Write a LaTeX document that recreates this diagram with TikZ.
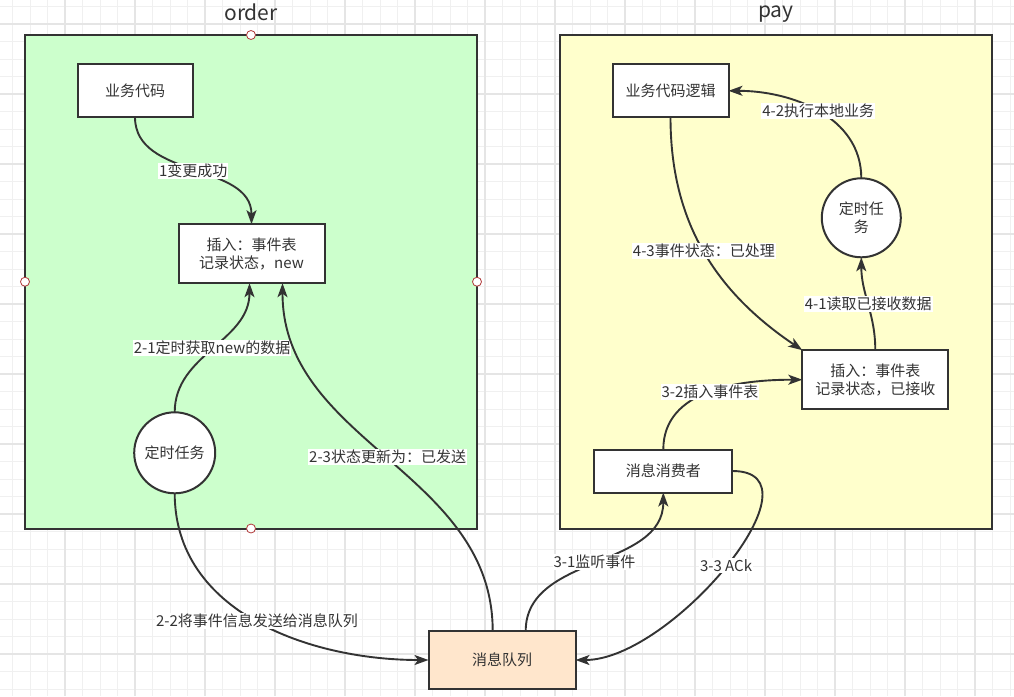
\documentclass[tikz,border=0pt]{standalone}
\usepackage{fontspec}
\setmainfont{Noto Sans CJK SC}
\usetikzlibrary{arrows.meta,calc}
\definecolor{ink}{HTML}{333333}
\definecolor{orderfill}{HTML}{CCFFCC}
\definecolor{payfill}{HTML}{FFFFCC}
\definecolor{mqfill}{HTML}{FFE6CC}
\definecolor{gridminor}{HTML}{F0F0F0}
\definecolor{gridmajor}{HTML}{E5E5E5}
\definecolor{handlecol}{HTML}{B03A3A}
\begin{document}
\begin{tikzpicture}[x=1pt,y=1pt,
  txt/.style={font=\fontsize{15pt}{18pt}\selectfont, text=ink},
  container/.style={draw=ink, line width=2pt, rectangle, outer sep=0pt, inner sep=0pt},
  box/.style={txt, draw=ink, line width=2pt, fill=white, rectangle, outer sep=0pt, align=center},
  roundnode/.style={txt, draw=ink, line width=2pt, fill=white, circle, outer sep=0pt, inner sep=0pt, align=center},
  conn/.style={draw=ink, line width=1.9pt, -{Stealth[length=14pt,width=10pt,inset=3.5pt]}},
  lbl/.style={txt, fill=white, inner sep=1pt, pos=0.5},
  title/.style={font=\fontsize{21pt}{25pt}\selectfont, text=ink, anchor=base},
  handle/.style={circle, draw=handlecol, fill=white, line width=0.8pt, minimum size=9pt, inner sep=0pt}
]
\useasboundingbox (0,0) rectangle (1014,-696);
\fill[white] (0,0) rectangle (1014,-696);
% grid
\foreach \x in {12.5,30,...,1012}{\draw[gridminor, line width=1pt] (\x,0) -- (\x,-696);}
\foreach \y in {6.5,24,...,696}{\draw[gridminor, line width=1pt] (0,-\y) -- (1014,-\y);}
\foreach \x in {65,135,...,1012}{\draw[gridmajor, line width=1.2pt] (\x,0) -- (\x,-696);}
\foreach \y in {24,94,...,696}{\draw[gridmajor, line width=1.2pt] (0,-\y) -- (1014,-\y);}

% containers
\node[container, fill=orderfill, minimum width=452pt, minimum height=493.5pt] (order) at (251,-281.75) {};
\node[container, fill=payfill, minimum width=432pt, minimum height=494.3pt] (pay) at (776,-282.2) {};
\node[title] (ordertitle) at (251,-20.7) {order};
\node[title] (paytitle) at (776,-17) {pay};

% order nodes
\node[box, minimum width=115pt, minimum height=53pt] (biz) at (135,-90.7) {业务代码};
\node[box, minimum width=146pt, minimum height=59pt] (ins) at (251.5,-253.7) {插入：事件表\\记录状态，new};
\node[roundnode, minimum size=81pt] (tmr) at (174.7,-452.8) {定时任务};

% message queue
\node[box, fill=mqfill, minimum width=147pt, minimum height=58pt] (mq) at (502,-660) {消息队列};

% pay nodes
\node[box, minimum width=116pt, minimum height=53pt] (pbiz) at (670.5,-90.8) {业务代码逻辑};
\node[roundnode, minimum size=79pt] (ptmr) at (861.3,-217.8) {定时任\\务};
\node[box, minimum width=146pt, minimum height=59pt] (pins) at (875.3,-379.7) {插入：事件表\\记录状态，已接收};
\node[box, minimum width=138pt, minimum height=43pt] (cons) at (663.3,-471) {消息消费者};

% handles on order box
\node[handle] (h1) at (order.north) {};
\node[handle] (h2) at (order.south) {};
\node[handle] (h3) at (order.west) {};
\node[handle] (h4) at (order.east) {};

% connectors
\draw[conn] (biz.south) to[out=-90,in=90] node[lbl]{1变更成功} (ins.north);
\draw[conn] (tmr.north) to[out=90,in=-90] node[lbl]{2-1定时获取new的数据} ([xshift=-2pt]ins.south);
\draw[conn] ([xshift=-9.3pt]mq.north) to[out=90,in=-90] node[lbl]{2-3状态更新为：已发送} ([xshift=31pt]ins.south);
\draw[conn] (tmr.south) to[out=-90,in=180] node[lbl]{2-2将事件信息发送给消息队列} (mq.west);
\draw[conn] ([xshift=23.7pt]mq.north) to[out=90,in=-90] node[lbl]{3-1监听事件} (cons.south);
\draw[conn] (cons.east) to[out=0,in=0] node[lbl]{3-3 ACk} (mq.east);
\draw[conn] (cons.north) to[out=90,in=180] node[lbl]{3-2插入事件表} (pins.west);
\draw[conn] (pins.north) to[out=90,in=-90] node[lbl]{4-1读取已接收数据} (ptmr.south);
\draw[conn] (ptmr.north) to[out=90,in=0] node[lbl]{4-2执行本地业务} (pbiz.east);
\draw[conn] (pbiz.south) to[out=-90,in=146] node[lbl]{4-3事件状态：已处理} (pins.north west);
\end{tikzpicture}
\end{document}
